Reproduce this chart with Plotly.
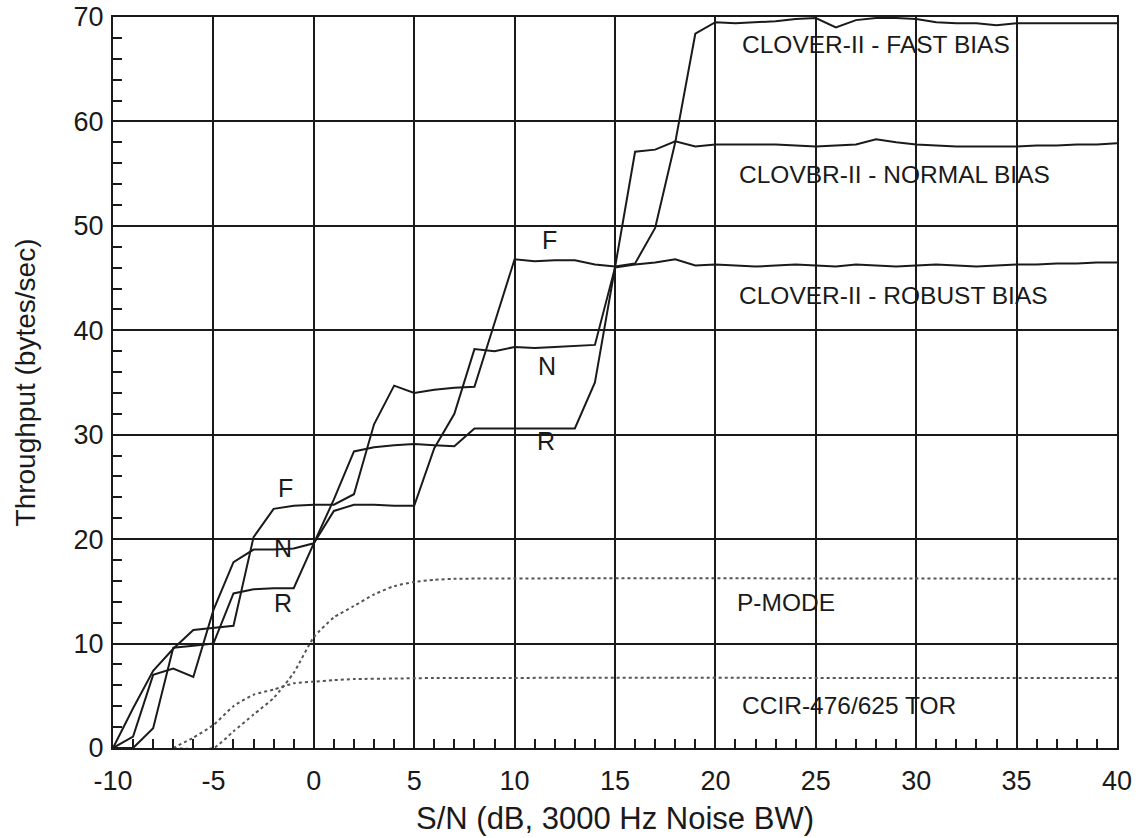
import plotly.graph_objects as go

# ---- data ----
sn_db = [-10, -9, -8, -7, -6, -5, -4, -3, -2, -1, 0, 1, 2, 3, 4, 5, 6, 7, 8, 9,
         10, 11, 12, 13, 14, 15, 16, 17, 18, 19, 20, 21, 22, 23, 24, 25, 26, 27, 28, 29,
         30, 31, 32, 33, 34, 35, 36, 37, 38, 39, 40]

fast_bias = [0, 3.8, 7.4, 9.5, 11.3, 11.5, 11.7, 20.2, 22.9, 23.2,
             23.3, 23.3, 24.3, 31.0, 34.7, 34.0, 34.3, 34.5, 34.6, 40.7,
             46.8, 46.6, 46.7, 46.7, 46.3, 46.1, 46.4, 49.8, 58.0, 68.4,
             69.5, 69.4, 69.5, 69.6, 69.8, 69.9, 69.0, 69.7, 69.9, 69.9,
             69.8, 69.5, 69.4, 69.4, 69.2, 69.4, 69.4, 69.4, 69.4, 69.4, 69.4]

normal_bias = [0, 1.1, 7.0, 7.6, 6.8, 13.2, 17.8, 19.0, 19.0, 19.1,
               19.6, 22.7, 23.3, 23.3, 23.2, 23.2, 28.7, 32.0, 38.2, 38.0,
               38.4, 38.3, 38.4, 38.5, 38.6, 46.0, 57.1, 57.3, 58.1, 57.6,
               57.8, 57.8, 57.8, 57.8, 57.7, 57.6, 57.7, 57.8, 58.3, 58.0,
               57.8, 57.7, 57.6, 57.6, 57.6, 57.6, 57.7, 57.7, 57.8, 57.8, 57.9]

robust_bias = [0, 0, 1.9, 9.6, 9.8, 10.0, 14.8, 15.2, 15.3, 15.3,
               19.6, 23.8, 28.4, 28.8, 29.0, 29.1, 29.0, 28.9, 30.6, 30.6,
               30.6, 30.6, 30.6, 30.6, 35.0, 46.0, 46.3, 46.5, 46.8, 46.2,
               46.3, 46.2, 46.1, 46.2, 46.3, 46.2, 46.1, 46.3, 46.2, 46.1,
               46.2, 46.3, 46.2, 46.1, 46.2, 46.3, 46.3, 46.4, 46.4, 46.5, 46.5]

pmode_x = [-7, -5, -4, -3, -2, -1, 0, 1, 2, 3, 4, 5, 6, 7, 40]
pmode_y = [0, 0, 1.6, 3.2, 4.8, 7.2, 10.6, 12.5, 13.6, 14.7, 15.5, 15.9, 16.1, 16.2, 16.2]

tor_x = [-7, -6, -5, -4, -3, -2, -1, 0, 1, 2, 4, 6, 40]
tor_y = [0, 1.0, 2.2, 4.0, 5.1, 5.6, 6.2, 6.35, 6.5, 6.6, 6.65, 6.7, 6.7]

x_ticks = [-10, -5, 0, 5, 10, 15, 20, 25, 30, 35, 40]
y_ticks = [0, 10, 20, 30, 40, 50, 60, 70]

series_labels = [
    ("CLOVER-II - FAST BIAS", 21.2, 67.4),
    ("CLOVBR-II - NORMAL BIAS", 21.1, 54.9),
    ("CLOVER-II - ROBUST BIAS", 21.1, 43.3),
    ("P-MODE", 21.0, 13.9),
    ("CCIR-476/625 TOR", 21.2, 4.1),
]
curve_letters = [
    ("F", 11.75, 48.6), ("N", 11.6, 36.6), ("R", 11.55, 29.4),
    ("F", -1.4, 24.9), ("N", -1.55, 19.2), ("R", -1.55, 13.9),
]

# ---- figure ----
INK = "#1a1a1a"
FONT = "Liberation Sans, Arial, Helvetica, sans-serif"

fig = go.Figure()
for ys in (fast_bias, normal_bias, robust_bias):
    fig.add_trace(go.Scatter(x=sn_db, y=ys, mode="lines",
                             line=dict(color=INK, width=2), showlegend=False,
                             hoverinfo="skip"))
for xs, ys in ((pmode_x, pmode_y), (tor_x, tor_y)):
    fig.add_trace(go.Scatter(x=xs, y=ys, mode="lines",
                             line=dict(color="#555555", width=2, dash="dot", shape="spline",
                                       smoothing=0.6),
                             showlegend=False, hoverinfo="skip"))

for text, x, y in series_labels:
    fig.add_annotation(x=x, y=y, text=text, showarrow=False, xanchor="left",
                       yanchor="middle", font=dict(family=FONT, size=24.5, color=INK))
for text, x, y in curve_letters:
    fig.add_annotation(x=x, y=y, text=text, showarrow=False, xanchor="center",
                       yanchor="middle", font=dict(family=FONT, size=25, color=INK))

fig.update_xaxes(range=[-10, 40], tickvals=x_ticks, ticktext=[str(v) for v in x_ticks],
                 showgrid=True, gridcolor=INK, gridwidth=2,
                 showline=True, linecolor=INK, linewidth=2, mirror=True,
                 ticks="inside", ticklen=9, tickwidth=1.5, tickcolor=INK,
                 minor=dict(dtick=1, ticks="inside", ticklen=9, tickwidth=1.5,
                            tickcolor=INK, showgrid=False),
                 zeroline=False, automargin=False, ticklabelstandoff=8,
                 tickfont=dict(family=FONT, size=27, color=INK),
                 title=dict(text="S/N (dB, 3000 Hz Noise BW)", standoff=12,
                            font=dict(family=FONT, size=31, color=INK)))
fig.update_yaxes(range=[0, 70], tickvals=y_ticks, ticktext=[str(v) for v in y_ticks],
                 showgrid=True, gridcolor=INK, gridwidth=2,
                 showline=True, linecolor=INK, linewidth=2, mirror=True,
                 ticks="inside", ticklen=9, tickwidth=1.5, tickcolor=INK,
                 minor=dict(dtick=2, ticks="inside", ticklen=9, tickwidth=1.5,
                            tickcolor=INK, showgrid=False),
                 zeroline=False, automargin=False, ticklabelstandoff=2,
                 tickfont=dict(family=FONT, size=27, color=INK),
                 title=dict(text="Throughput (bytes/sec)", standoff=30,
                            font=dict(family=FONT, size=28, color=INK)))

fig.update_layout(width=1142, height=838,
                  margin=dict(l=113, r=25, t=17, b=90),
                  paper_bgcolor="white", plot_bgcolor="white")

fig.write_html("out.html")
